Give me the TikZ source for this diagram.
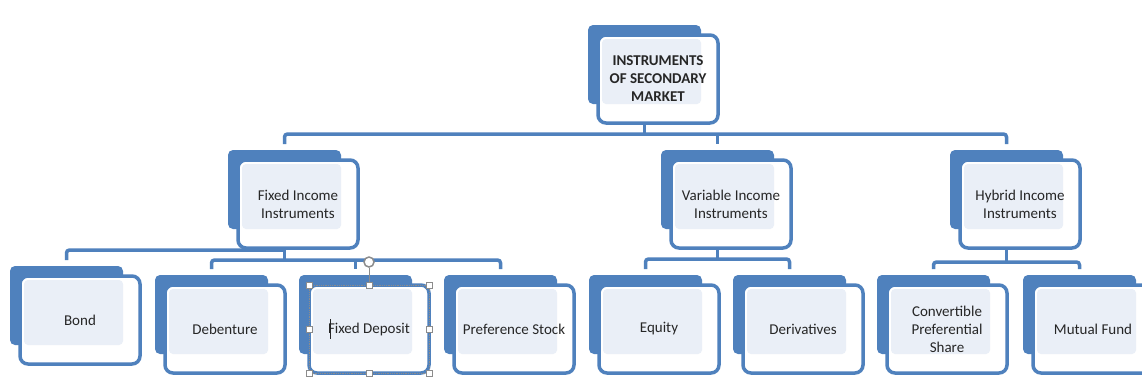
\documentclass[tikz,border=0pt]{standalone}
\usepackage{fontspec}
\setmainfont{Carlito}
\usetikzlibrary{calc}
\definecolor{ablue}{RGB}{79,129,189}
\definecolor{apale}{RGB}{234,239,247}
\definecolor{atext}{RGB}{38,38,38}
\definecolor{ahandle}{RGB}{140,140,140}
\tikzset{
  backbox/.style={fill=ablue, draw=none, rounded corners=5pt, minimum width=113pt, minimum height=79pt, inner sep=0pt, outer sep=0pt},
  frontbox/.style={fill=white, draw=ablue, line width=3.5pt, rounded corners=8pt, minimum width=120pt, minimum height=88pt, inner sep=0pt, outer sep=0pt},
  palebox/.style={fill=apale, rounded corners=4pt},
  boxtext/.style={text=atext, align=center, font=\fontsize{15}{18}\selectfont, inner sep=0pt},
  conn/.style={draw=ablue, line width=3.5pt, rounded corners=3pt},
  handlebox/.style={draw=ahandle, fill=white, line width=0.8pt, minimum size=6pt, inner sep=0pt},
}
\newcommand\mkbox[4]{%
  \node[backbox, anchor=north west] (#1b) at (#2,#3) {};
  \node[frontbox, anchor=north west] (#1) at ($(#2,#3)+(10,10)$) {};
  \path[palebox] ($(#1.north west)+(4,4)$) rectangle (#1b.south east);
  \node[boxtext] (#1t) at (#1.center) {#4};
}
\begin{document}
\begin{tikzpicture}[x=1pt,y=-1pt]
\useasboundingbox (0,0) rectangle (1142,381);
\clip (0,0) rectangle (1142,381);
\fill[white] (0,0) rectangle (1142,381);

% boxes
\mkbox{top}{588}{25}{\bfseries INSTRUMENTS\\\bfseries OF SECONDARY\\\bfseries MARKET}
\mkbox{fix}{228}{150}{Fixed Income\\Instruments}
\mkbox{var}{661}{150}{Variable Income\\Instruments}
\mkbox{hyb}{950}{150}{Hybrid Income\\Instruments}
\mkbox{bond}{10}{266}{Bond}
\mkbox{deb}{155}{275}{Debenture}
\mkbox{fd}{299}{275}{Fixed Deposit}
\mkbox{pref}{444}{275}{Preference Stock}
\mkbox{eq}{589}{275}{Equity}
\mkbox{der}{733}{275}{Derivatives}
\mkbox{conv}{877}{275}{Convertible\\Preferential\\Share}
\mkbox{mf}{1023}{275}{Mutual Fund}

% connector levels
\coordinate (y1) at (0,134);
\coordinate (y2a) at (0,250);
\coordinate (y2b) at (0,260);
\coordinate (y3) at (0,259);
\coordinate (y4) at (0,262);

% level 1
\draw[conn] ($(fixb.north)+(0,-6)$) -- (fixb.north |- y1) -- (hybb.north |- y1) -- ($(hybb.north)+(0,-6)$);
\draw[conn] (topb.center |- top.south) -- (topb.center |- y1);
\draw[conn] (varb.north |- y1) -- ($(varb.north)+(0,-6)$);

% fixed income children
\draw[conn] ($(bondb.north)+(0,-6)$) -- (bondb.north |- y2a) -- (fixb.center |- y2a);
\draw[conn] (fixb.center |- fix.south) -- (fixb.center |- y2b);
\draw[conn] ($(debb.north)+(0,-6)$) -- (debb.north |- y2b) -- (prefb.north |- y2b) -- ($(prefb.north)+(0,-6)$);
\draw[conn] (fdb.north |- y2b) -- ($(fdb.north)+(0,-6)$);

% variable income children
\draw[conn] (varb.center |- var.south) -- (varb.center |- y3);
\draw[conn] ($(eqb.north)+(0,-6)$) -- (eqb.north |- y3) -- (derb.north |- y3) -- ($(derb.north)+(0,-6)$);

% hybrid income children
\draw[conn] (hybb.center |- hyb.south) -- (hybb.center |- y4);
\draw[conn] ($(convb.north)+(0,-6)$) -- (convb.north |- y4) -- (mfb.north |- y4) -- ($(mfb.north)+(0,-6)$);

% selection handles on Fixed Deposit
\draw[ahandle, densely dotted, line width=0.8pt] (fd.north west) rectangle (fd.south east);
\draw[ahandle, line width=0.8pt] (fd.north) -- ++(0,-17);
\draw[ahandle, fill=white, line width=1.5pt] ($(fd.north)+(0,-23)$) circle (5);
\foreach \a in {north west,north,north east,west,east,south west,south,south east}
  \node[handlebox] at (fd.\a) {};
\draw[atext, line width=0.7pt] ($(fdt.west)+(3,-10)$) -- ($(fdt.west)+(3,10)$);
\end{tikzpicture}
\end{document}
